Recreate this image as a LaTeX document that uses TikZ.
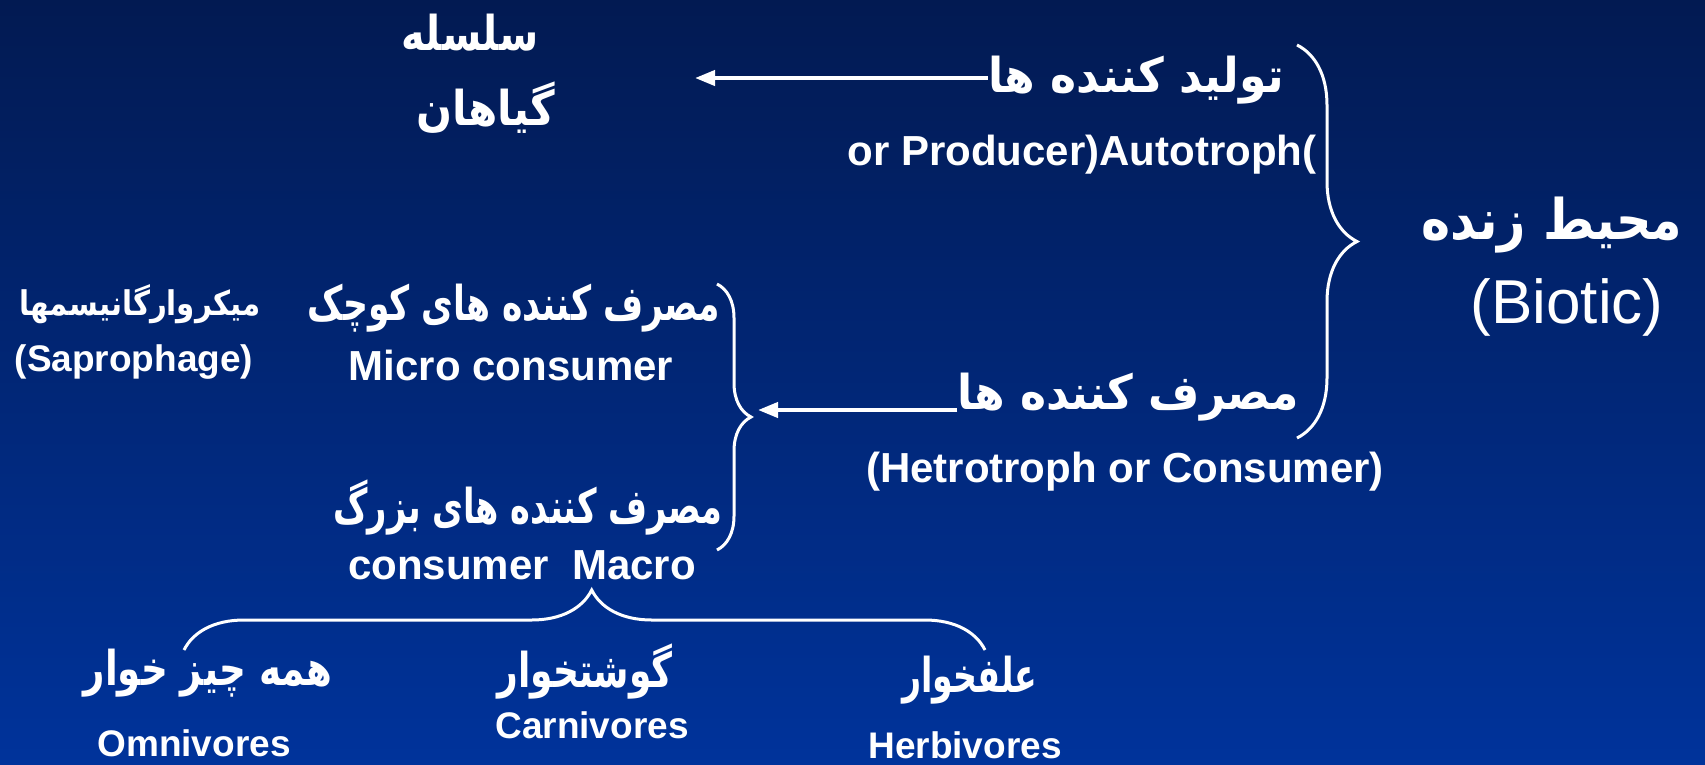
\documentclass[tikz,border=0pt]{standalone}
\usepackage{fontspec}
\usepackage{graphicx}
\setmainfont{Liberation Sans}
\newfontfamily\arabicfont[Script=Arabic]{DejaVu Sans}
\TeXXeTstate=1
\usetikzlibrary{decorations.pathreplacing, arrows.meta}
\definecolor{bgtop}{RGB}{2,26,82}
\definecolor{bgbottom}{RGB}{0,51,155}

\begin{document}
\begin{tikzpicture}[x=1pt,y=-1pt,
  every node/.style={text=white, inner sep=0pt},
  fa/.style={font=\arabicfont\bfseries\fontsize{48}{56}\selectfont},
  fabig/.style={font=\arabicfont\bfseries\fontsize{56}{64}\selectfont},
  fasmall/.style={font=\arabicfont\bfseries\fontsize{34}{40}\selectfont},
  en/.style={font=\bfseries\fontsize{42}{50}\selectfont},
  ensmall/.style={font=\bfseries\fontsize{37}{44}\selectfont},
  arr/.style={draw=white, line width=4pt, -{Triangle[length=20pt,width=15pt]}},
  bracestyle/.style={draw=white, line width=3pt, decorate}]
% background
\shade[top color=bgtop, bottom color=bgbottom] (0,0) rectangle (1705,764);
\useasboundingbox (0,0) rectangle (1705,764);

% top row
\node[fa] (chain) at (470,33) {\scalebox{0.83}[1]{\beginR سلسله\endR}};
\node[fa] (plants) at (486,108) {\scalebox{0.88}[1]{\beginR گیاهان\endR}};
\node[fa] (producer) at (1136,80) {\scalebox{0.92}[1]{\beginR تولید کننده ها\endR}};
\node[en] (autotroph) at (1082,155) {or Producer)Autotroph(};
\coordinate (chaintip) at (695,78);
\draw[arr] (producer.west |- chaintip) -- (chaintip);

% biotic
\draw[bracestyle, decoration={brace, amplitude=60pt}] (1297,45) -- (1297,438);
\node[fabig] (biotic) at (1552,225) {\scalebox{0.88}[1]{\beginR محیط زنده\endR}};
\node[font=\fontsize{62}{70}\selectfont] (bioticen) at (1567,307) {(Biotic)};

% consumers
\node[fa] (consumer) at (1128,397) {\scalebox{0.92}[1]{\beginR مصرف کننده ها\endR}};
\node[en] (hetero) at (1125,472) {(Hetrotroph or Consumer)};
\coordinate (consumertip) at (758,410);
\draw[arr] (consumer.west |- consumertip) -- (consumertip);
\draw[bracestyle, decoration={brace, amplitude=34pt}] (717,284) -- (717,550);

% micro and macro
\node[fa] (microfa) at (514,308) {\scalebox{0.72}[1]{\beginR مصرف کننده های کوچک\endR}};
\node[en] (micro) at (511,365) {Micro consumer};
\node[fasmall] (microorg) at (140,304) {\scalebox{0.86}[1]{\beginR میکروارگانیسمها\endR}};
\node[ensmall] (sapro) at (134,362) {(Saprophage)};
\node[fa] (macrofa) at (528,508) {\scalebox{0.70}[1]{\beginR مصرف کننده های بزرگ\endR}};
\node[en] (macro) at (522,565) {consumer\ \ Macro};

% bottom row
\draw[bracestyle, decoration={brace, amplitude=60pt, aspect=0.509}] (184,650) -- (985,650);
\node[fa] (omnifa) at (208,673) {\scalebox{0.775}[1]{\beginR همه چیز خوار\endR}};
\node[fa] (carnifa) at (585,672) {\scalebox{0.75}[1]{\beginR گوشتخوار\endR}};
\node[fa] (herbifa) at (970,680) {\scalebox{0.69}[1]{\beginR علفخوار\endR}};
\node[ensmall] (omni) at (194,743) {Omnivores};
\node[ensmall] (carni) at (592,725) {Carnivores};
\node[ensmall] (herbi) at (965,745) {Herbivores};
\end{tikzpicture}
\end{document}
